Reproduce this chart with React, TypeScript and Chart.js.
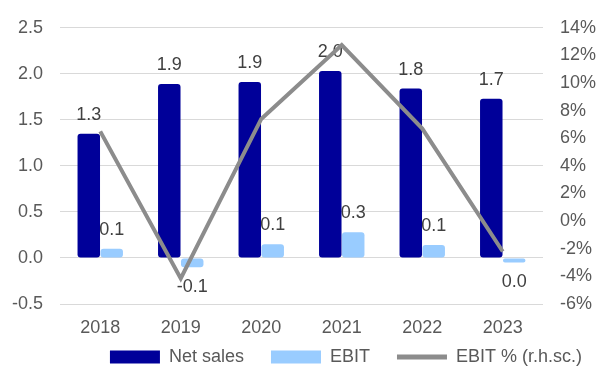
import React, { useEffect, useRef } from "react";
import { Chart, registerables } from "chart.js";

Chart.register(...registerables);

const categories = ["2018", "2019", "2020", "2021", "2022", "2023"];
const netSales = [1.349, 1.89, 1.91, 2.03, 1.84, 1.73];
const ebit = [0.1, -0.1, 0.149, 0.28, 0.14, -0.049];
const ebitPct = [6.5, -4.15, 7.4, 12.75, 6.7, -2.2];

const leftTicks = { min: -0.5, max: 2.5, step: 0.5 };
const rightTicks = { min: -6, max: 14, step: 2 };

const FONT = "'Liberation Sans', Arial, sans-serif";
const TICK_COLOR = "#595959";
const LABEL_COLOR = "#404040";
const LEGEND_PAD = 27;

function fmt(v: number) {
  let s = v.toFixed(1);
  if (s === "-0.0") s = "0.0";
  return s;
}

const barLabels = {
  id: "barLabels",
  afterDatasetDraw(chart: any, args: any) {
    const ds = chart.data.datasets[args.index];
    if (ds.type !== "bar") return;
    const ctx = chart.ctx;
    ctx.save();
    ctx.font = `18px ${FONT}`;
    ctx.fillStyle = LABEL_COLOR;
    ctx.textAlign = "center";
    ctx.textBaseline = "middle";
    args.meta.data.forEach((el: any, i: number) => {
      const v = ds.data[i] as number;
      const y = v >= 0 ? el.y - 19 : el.y + 20;
      ctx.fillText(fmt(v), el.x, y);
    });
    ctx.restore();
  },
};

const legendPlacer = {
  id: "legendPlacer",
  beforeDraw(chart: any) {
    const lg = chart.legend;
    if (!lg) return;
    lg.top = 357 - LEGEND_PAD - 9;
    lg.bottom = chart.height;
    lg.height = lg.bottom - lg.top;
    lg.left = 12;
    lg.right = 609;
    lg.width = lg.right - lg.left;
  },
};

export default function App() {
  const ref = useRef<HTMLCanvasElement>(null);
  useEffect(() => {
    if (!ref.current) return;
    const chart = new Chart(ref.current, {
      type: "bar",
      data: {
        labels: categories,
        datasets: [
          {
            type: "bar",
            label: "Net sales",
            data: netSales,
            backgroundColor: "#000099",
            borderWidth: 0,
            borderRadius: 3,
            borderSkipped: false,
            categoryPercentage: 0.57,
            barPercentage: 0.98,
            yAxisID: "y",
            order: 1,
          } as any,
          {
            type: "bar",
            label: "EBIT",
            data: ebit,
            backgroundColor: "#99CCFF",
            borderWidth: 0,
            borderRadius: 3,
            borderSkipped: false,
            categoryPercentage: 0.57,
            barPercentage: 0.98,
            yAxisID: "y",
            order: 1,
          } as any,
          {
            type: "line",
            label: "EBIT % (r.h.sc.)",
            data: ebitPct,
            borderColor: "#8C8C8C",
            backgroundColor: "#8C8C8C",
            borderWidth: 4,
            pointRadius: 0,
            tension: 0,
            yAxisID: "y1",
            order: 0,
          } as any,
        ],
      },
      options: {
        animation: false,
        responsive: false,
        layout: { padding: { top: 22, left: 0, right: 0, bottom: 0 } },
        scales: {
          x: {
            grid: { display: false, drawTicks: false },
            border: { display: false },
            ticks: { color: TICK_COLOR, font: { family: FONT, size: 18 }, padding: 13 },
            afterFit: (s: any) => { s.height = 40; },
          },
          y: {
            position: "left",
            min: leftTicks.min,
            max: leftTicks.max,
            ticks: {
              stepSize: leftTicks.step,
              color: TICK_COLOR,
              font: { family: FONT, size: 18 },
              padding: 17,
              callback: (v: any) => Number(v).toFixed(1),
            },
            grid: { color: "#D9D9D9", lineWidth: 1, drawTicks: false },
            border: { display: false },
            afterFit: (s: any) => { s.width = 60; },
          },
          y1: {
            position: "right",
            min: rightTicks.min,
            max: rightTicks.max,
            ticks: {
              stepSize: rightTicks.step,
              color: TICK_COLOR,
              font: { family: FONT, size: 18 },
              padding: 17,
              callback: (v: any) => `${v}%`,
            },
            grid: { display: false, drawTicks: false },
            border: { display: false },
            afterFit: (s: any) => { s.width = 54; },
          },
        },
        plugins: {
          tooltip: { enabled: false },
          legend: {
            position: "bottom",
            align: "end",
            maxHeight: 26,
            labels: {
              usePointStyle: true,
              pointStyleWidth: 50,
              boxHeight: 13,
              padding: LEGEND_PAD,
              color: TICK_COLOR,
              font: { family: FONT, size: 18 },
              sort: (a: any, b: any) => a.datasetIndex - b.datasetIndex,
              generateLabels: (ch: any) => {
                const items = Chart.defaults.plugins.legend.labels.generateLabels(ch);
                return items.map((it: any) => {
                  const ds = ch.data.datasets[it.datasetIndex];
                  if (ds.type === "line") {
                    return { ...it, pointStyle: "line", lineWidth: 5, strokeStyle: "#8C8C8C" };
                  }
                  return { ...it, pointStyle: "rect", lineWidth: 0 };
                });
              },
            },
          },
        },
      },
      plugins: [barLabels, legendPlacer],
    });
    return () => chart.destroy();
  }, []);
  return (
    <div style={{ position: "fixed", left: 0, top: 0, width: 597, height: 370 }}>
      <canvas ref={ref} width={597} height={370} />
    </div>
  );
}
